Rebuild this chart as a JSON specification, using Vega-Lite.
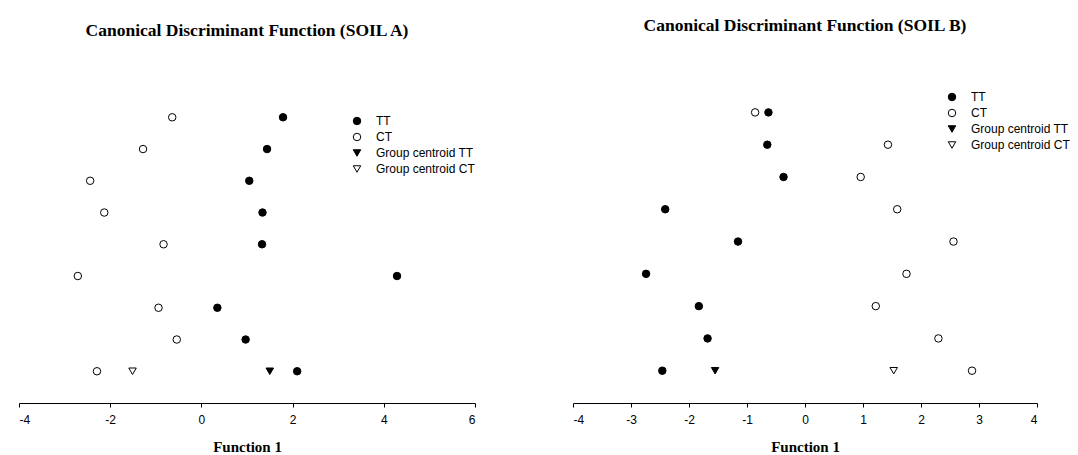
{
  "$schema": "https://vega.github.io/schema/vega-lite/v6.json",
  "autosize": {"type": "pad"},
  "padding": {"left": 18, "top": 16, "right": 5, "bottom": 0},
  "background": "white",
  "config": {
    "view": {"stroke": null},
    "axis": {
      "domainColor": "black", "tickColor": "black", "grid": false,
      "labelFont": "Liberation Sans", "labelFontSize": 12, "labelColor": "black",
      "labelExpr": "datum.value",
      "tickSize": 4, "labelPadding": 7,
      "titleFont": "Liberation Serif", "titleFontSize": 15, "titleFontWeight": "bold", "titleColor": "black", "titlePadding": 14
    },
    "legend": {
      "title": null, "orient": "none", "padding": 0,
      "labelFont": "Liberation Sans", "labelFontSize": 12, "labelColor": "black",
      "symbolStrokeColor": "black", "symbolStrokeWidth": 1, "symbolSize": 56,
      "rowPadding": 4, "labelOffset": 13
    },
    "title": {"font": "Liberation Serif", "fontSize": 17.5, "fontWeight": "bold", "color": "black", "baseline": "alphabetic", "anchor": "middle"}
  },
  "datasets": {
    "soilA": [
      {"f1": -0.64, "row": 9, "group": "CT"}, {"f1": 1.79, "row": 9, "group": "TT"},
      {"f1": -1.28, "row": 8, "group": "CT"}, {"f1": 1.44, "row": 8, "group": "TT"},
      {"f1": -2.44, "row": 7, "group": "CT"}, {"f1": 1.05, "row": 7, "group": "TT"},
      {"f1": -2.13, "row": 6, "group": "CT"}, {"f1": 1.34, "row": 6, "group": "TT"},
      {"f1": -0.83, "row": 5, "group": "CT"}, {"f1": 1.33, "row": 5, "group": "TT"},
      {"f1": -2.71, "row": 4, "group": "CT"}, {"f1": 4.29, "row": 4, "group": "TT"},
      {"f1": -0.94, "row": 3, "group": "CT"}, {"f1": 0.35, "row": 3, "group": "TT"},
      {"f1": -0.54, "row": 2, "group": "CT"}, {"f1": 0.97, "row": 2, "group": "TT"},
      {"f1": -2.29, "row": 1, "group": "CT"}, {"f1": 2.10, "row": 1, "group": "TT"},
      {"f1": 1.50, "row": 1, "group": "Group centroid TT"}, {"f1": -1.51, "row": 1, "group": "Group centroid CT"}
    ],
    "soilB": [
      {"f1": -0.86, "row": 9, "group": "CT"}, {"f1": -0.63, "row": 9, "group": "TT"},
      {"f1": 1.43, "row": 8, "group": "CT"}, {"f1": -0.65, "row": 8, "group": "TT"},
      {"f1": 0.96, "row": 7, "group": "CT"}, {"f1": -0.37, "row": 7, "group": "TT"},
      {"f1": 1.59, "row": 6, "group": "CT"}, {"f1": -2.41, "row": 6, "group": "TT"},
      {"f1": 2.56, "row": 5, "group": "CT"}, {"f1": -1.155, "row": 5, "group": "TT"},
      {"f1": 1.75, "row": 4, "group": "CT"}, {"f1": -2.74, "row": 4, "group": "TT"},
      {"f1": 1.22, "row": 3, "group": "CT"}, {"f1": -1.83, "row": 3, "group": "TT"},
      {"f1": 2.30, "row": 2, "group": "CT"}, {"f1": -1.68, "row": 2, "group": "TT"},
      {"f1": 2.88, "row": 1, "group": "CT"}, {"f1": -2.46, "row": 1, "group": "TT"},
      {"f1": -1.55, "row": 1, "group": "Group centroid TT"}, {"f1": 1.53, "row": 1, "group": "Group centroid CT"}
    ]
  },
  "spacing": 98,
  "bounds": "flush",
  "hconcat": [
    {
      "title": {"text": "Canonical Discriminant Function (SOIL A)", "offset": 43.3},
      "width": 456, "height": 320,
      "data": {"name": "soilA"},
      "mark": {"type": "point", "filled": true, "strokeWidth": 1, "size": 56, "opacity": 1},
      "encoding": {
        "x": {"field": "f1", "type": "quantitative", "title": "Function 1",
              "scale": {"domain": [-4, 6], "nice": false, "zero": false},
              "axis": {"values": [-4, -2, 0, 2, 4, 6]}},
        "y": {"field": "row", "type": "quantitative", "axis": null,
              "scale": {"domain": [0, 10.08], "nice": false}},
        "shape": {"field": "group", "type": "nominal",
                  "scale": {"domain": ["TT", "CT", "Group centroid TT", "Group centroid CT"], "range": ["circle", "circle", "triangle-down", "triangle-down"]},
                  "legend": {"legendX": 332, "legendY": 32}},
        "fill": {"field": "group", "type": "nominal",
                 "scale": {"domain": ["TT", "CT", "Group centroid TT", "Group centroid CT"], "range": ["black", "white", "black", "white"]},
                 "legend": {"legendX": 332, "legendY": 32}},
        "stroke": {"field": "group", "type": "nominal",
                   "scale": {"domain": ["TT", "CT", "Group centroid TT", "Group centroid CT"], "range": ["black", "black", "black", "black"]},
                   "legend": {"legendX": 332, "legendY": 32}}
      }
    },
    {
      "title": {"text": "Canonical Discriminant Function (SOIL B)", "offset": 48.7},
      "width": 464, "height": 320,
      "data": {"name": "soilB"},
      "mark": {"type": "point", "filled": true, "strokeWidth": 1, "size": 56, "opacity": 1},
      "encoding": {
        "x": {"field": "f1", "type": "quantitative", "title": "Function 1",
              "scale": {"domain": [-4, 4], "nice": false, "zero": false},
              "axis": {"values": [-4, -3, -2, -1, 0, 1, 2, 3, 4]}},
        "y": {"field": "row", "type": "quantitative", "axis": null,
              "scale": {"domain": [0, 9.91], "nice": false}},
        "shape": {"field": "group", "type": "nominal",
                  "scale": {"domain": ["TT", "CT", "Group centroid TT", "Group centroid CT"], "range": ["circle", "circle", "triangle-down", "triangle-down"]},
                  "legend": {"legendX": 373, "legendY": 8}},
        "fill": {"field": "group", "type": "nominal",
                 "scale": {"domain": ["TT", "CT", "Group centroid TT", "Group centroid CT"], "range": ["black", "white", "black", "white"]},
                 "legend": {"legendX": 373, "legendY": 8}},
        "stroke": {"field": "group", "type": "nominal",
                   "scale": {"domain": ["TT", "CT", "Group centroid TT", "Group centroid CT"], "range": ["black", "black", "black", "black"]},
                   "legend": {"legendX": 373, "legendY": 8}}
      }
    }
  ],
  "resolve": {"scale": {"shape": "independent", "fill": "independent", "stroke": "independent"}, "legend": {"shape": "independent", "fill": "independent", "stroke": "independent"}}
}
